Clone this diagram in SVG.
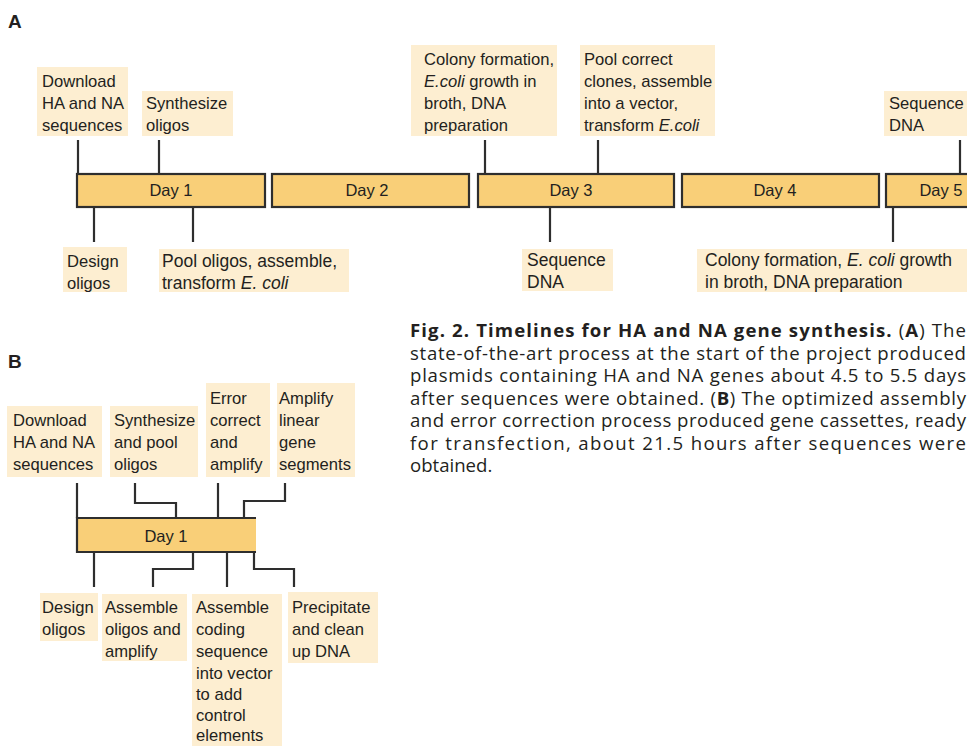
<svg xmlns="http://www.w3.org/2000/svg" width="967" height="746" viewBox="0 0 967 746">
<style>
text{font-family:"Liberation Sans",Arial,sans-serif;fill:#231f20;}
.lbl{font-size:16.6px;}
.day{font-size:16.5px;text-anchor:middle;}
.panel{font-size:19px;font-weight:bold;}
.lb{fill:#fdeed1;}
.dbox{fill:#f9cf78;stroke:#2e2e2e;stroke-width:2.2;}
.conn path,.conn line{stroke:#2e2e2e;stroke-width:2.2;fill:none;}
.cap{font-family:"Open Sans","Liberation Sans",sans-serif;font-size:18.6px;}
.b{font-weight:bold;}
.i{font-style:italic;}
</style>
<rect width="967" height="746" fill="#fff"/>

<!-- Panel A -->
<text class="panel" x="8" y="28">A</text>

<g id="a-day1"><rect class="dbox" x="77" y="174" width="188" height="33"/><text class="day" x="171" y="196">Day 1</text></g>
<g id="a-day2"><rect class="dbox" x="272" y="174" width="197" height="33"/><text class="day" x="367" y="196">Day 2</text></g>
<g id="a-day3"><rect class="dbox" x="478" y="174" width="196" height="33"/><text class="day" x="571" y="196">Day 3</text></g>
<g id="a-day4"><rect class="dbox" x="682" y="174" width="197" height="33"/><text class="day" x="775" y="196">Day 4</text></g>
<g id="a-day5"><rect class="dbox" x="886" y="174" width="100" height="33"/><text class="day" x="941" y="196">Day 5</text></g>

<g class="conn" id="a-connectors">
<line x1="78" y1="140" x2="78" y2="174"/>
<line x1="159" y1="140" x2="159" y2="174"/>
<line x1="485" y1="140" x2="485" y2="174"/>
<line x1="598" y1="140" x2="598" y2="174"/>
<line x1="960" y1="140" x2="960" y2="174"/>
<line x1="94" y1="207" x2="94" y2="242"/>
<line x1="193" y1="207" x2="193" y2="242"/>
<line x1="550" y1="207" x2="550" y2="242"/>
<line x1="893" y1="207" x2="893" y2="242"/>
</g>

<g id="a-download"><rect class="lb" x="37" y="67" width="91" height="69"/>
<text class="lbl" x="42" y="87">Download</text><text class="lbl" x="42" y="109">HA and NA</text><text class="lbl" x="42" y="131">sequences</text></g>
<g id="a-synth"><rect class="lb" x="142" y="91" width="91" height="45"/>
<text class="lbl" x="146" y="109">Synthesize</text><text class="lbl" x="146" y="131">oligos</text></g>
<g id="a-colony1"><rect class="lb" x="411" y="45" width="146" height="91"/>
<text class="lbl" x="424" y="65">Colony formation,</text><text class="lbl" x="424" y="87"><tspan class="i">E.coli</tspan> growth in</text><text class="lbl" x="424" y="109">broth, DNA</text><text class="lbl" x="424" y="131">preparation</text></g>
<g id="a-poolcorrect"><rect class="lb" x="580" y="45" width="135" height="91"/>
<text class="lbl" x="584" y="65">Pool correct</text><text class="lbl" x="584" y="87">clones, assemble</text><text class="lbl" x="584" y="109">into a vector,</text><text class="lbl" x="584" y="131">transform <tspan class="i">E.coli</tspan></text></g>
<g id="a-seq2"><rect class="lb" x="884" y="91" width="83" height="45"/>
<text class="lbl" x="889" y="109">Sequence</text><text class="lbl" x="889" y="131">DNA</text></g>
<g id="a-design"><rect class="lb" x="63" y="247" width="64" height="45"/>
<text class="lbl" x="67" y="267">Design</text><text class="lbl" x="67" y="289">oligos</text></g>
<g id="a-pool"><rect class="lb" x="159" y="249" width="190" height="43"/>
<text class="lbl" x="162" y="267" style="font-size:17.5px">Pool oligos, assemble,</text><text class="lbl" x="162" y="289" style="font-size:17.5px">transform <tspan class="i">E. coli</tspan></text></g>
<g id="a-seq1"><rect class="lb" x="522" y="249" width="91" height="42"/>
<text class="lbl" x="527" y="266" style="font-size:17.5px">Sequence</text><text class="lbl" x="527" y="288" style="font-size:17.5px">DNA</text></g>
<g id="a-colony2"><rect class="lb" x="697" y="249" width="270" height="43"/>
<text class="lbl" x="705" y="266" style="font-size:17.5px">Colony formation, <tspan class="i">E. coli</tspan> growth</text><text class="lbl" x="705" y="288" style="font-size:17.5px">in broth, DNA preparation</text></g>

<!-- Panel B -->
<text class="panel" x="8" y="368">B</text>

<g id="b-day1"><rect x="77" y="518" width="179" height="34" fill="#f9cf78"/>
<path d="M256,518 H77 V552 H256" fill="none" stroke="#2e2e2e" stroke-width="2.2"/>
<text class="day" x="166" y="542">Day 1</text></g>

<g class="conn" id="b-connectors">
<path d="M77,483 V518"/>
<path d="M135,483 V503 H176 V518"/>
<path d="M218,483 V518"/>
<path d="M285,483 V501 H244 V518"/>
<path d="M94,552 V587"/>
<path d="M193,552 V569 H153 V587"/>
<path d="M227,552 V587"/>
<path d="M254,552 V569 H294 V587"/>
</g>

<g id="b-download"><rect class="lb" x="7" y="406" width="95" height="71"/>
<text class="lbl" x="13" y="426">Download</text><text class="lbl" x="13" y="448">HA and NA</text><text class="lbl" x="13" y="470">sequences</text></g>
<g id="b-synth"><rect class="lb" x="110" y="406" width="88" height="71"/>
<text class="lbl" x="114" y="426">Synthesize</text><text class="lbl" x="114" y="448">and pool</text><text class="lbl" x="114" y="470">oligos</text></g>
<g id="b-error"><rect class="lb" x="206" y="383" width="64" height="94"/>
<text class="lbl" x="210" y="404">Error</text><text class="lbl" x="210" y="426">correct</text><text class="lbl" x="210" y="448">and</text><text class="lbl" x="210" y="470">amplify</text></g>
<g id="b-amplify"><rect class="lb" x="277" y="383" width="78" height="94"/>
<text class="lbl" x="279" y="404">Amplify</text><text class="lbl" x="279" y="426">linear</text><text class="lbl" x="279" y="448">gene</text><text class="lbl" x="279" y="470">segments</text></g>
<g id="b-design"><rect class="lb" x="40" y="593" width="58" height="48"/>
<text class="lbl" x="42" y="613">Design</text><text class="lbl" x="42" y="635">oligos</text></g>
<g id="b-assemble"><rect class="lb" x="102" y="594" width="85" height="67"/>
<text class="lbl" x="105" y="613">Assemble</text><text class="lbl" x="105" y="635">oligos and</text><text class="lbl" x="105" y="657">amplify</text></g>
<g id="b-coding"><rect class="lb" x="192" y="594" width="90" height="152"/>
<text class="lbl" x="196" y="613">Assemble</text><text class="lbl" x="196" y="635">coding</text><text class="lbl" x="196" y="657">sequence</text><text class="lbl" x="196" y="679">into vector</text><text class="lbl" x="196" y="700">to add</text><text class="lbl" x="196" y="721">control</text><text class="lbl" x="196" y="741">elements</text></g>
<g id="b-precip"><rect class="lb" x="288" y="592" width="90" height="71"/>
<text class="lbl" x="292" y="613">Precipitate</text><text class="lbl" x="292" y="635">and clean</text><text class="lbl" x="292" y="657">up DNA</text></g>

<!-- Caption -->
<g id="caption">
<text class="cap" x="410" y="337" textLength="556" lengthAdjust="spacing"><tspan class="b">Fig. 2.  Timelines for HA and NA gene synthesis.</tspan> (<tspan class="b">A</tspan>) The</text>
<text class="cap" x="410" y="359.5" textLength="556" lengthAdjust="spacing">state-of-the-art process at the start of the project produced</text>
<text class="cap" x="410" y="382" textLength="556" lengthAdjust="spacing">plasmids containing HA and NA genes about 4.5 to 5.5 days</text>
<text class="cap" x="410" y="404.5" textLength="556" lengthAdjust="spacing">after sequences were obtained. (<tspan class="b">B</tspan>) The optimized assembly</text>
<text class="cap" x="410" y="427" textLength="556" lengthAdjust="spacing">and error correction process produced gene cassettes, ready</text>
<text class="cap" x="410" y="449.5" textLength="556" lengthAdjust="spacing">for transfection, about 21.5 hours after sequences were</text>
<text class="cap" x="410" y="472">obtained.</text>
</g>
</svg>
